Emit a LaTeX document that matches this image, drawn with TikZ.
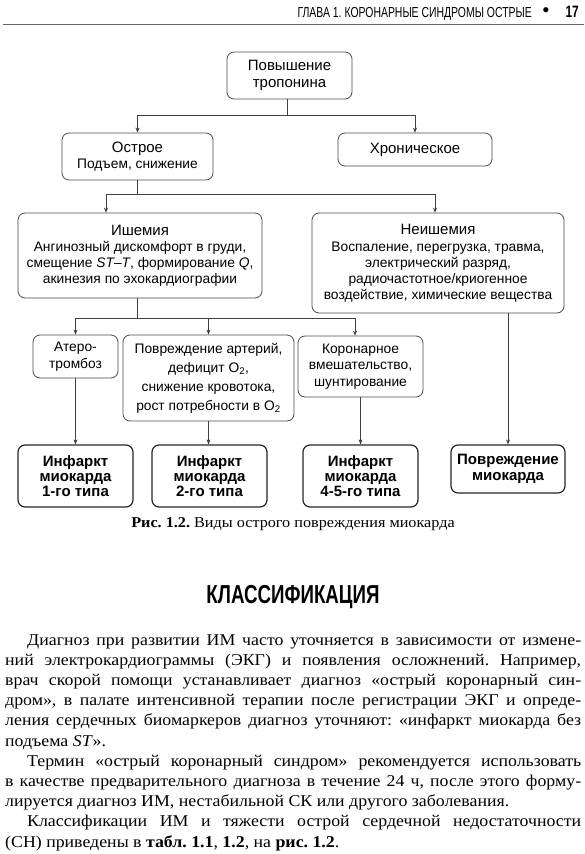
\documentclass[tikz,border=0pt]{standalone}
\usepackage{fontspec}
\setmainfont{Liberation Serif}
\newfontfamily\dsans{Liberation Sans}
\newfontfamily\cond[FakeStretch=0.72]{Liberation Sans}
\newfontfamily\bodyf[FakeStretch=1.08]{Liberation Serif}
\usetikzlibrary{arrows.meta}
\frenchspacing
\newcommand\jl[1]{\makebox[576pt][s]{#1}}
\newcommand\jli[1]{\makebox[554pt][s]{#1}}
\newcommand\ttl[1]{{\fontsize{15}{16.7}\selectfont #1}}
\begin{document}
\begin{tikzpicture}[x=1pt,y=-1pt,
  box/.style={draw=black!70, line width=0.8pt, rounded corners=7pt, inner sep=0pt, align=center,
    font=\dsans\fontsize{13.8}{16.7}\selectfont},
  bbox/.style={box, line width=1.2pt, draw=black!85, font=\dsans\bfseries\fontsize{15}{15.3}\selectfont},
  conn/.style={draw=black!75, line width=0.7pt},
  arr/.style={conn, -{Stealth[length=5pt,width=4pt]}},
  txt/.style={inner sep=0pt, anchor=base west, font=\bodyf\fontsize{16.5}{20}\selectfont},
]
\useasboundingbox[fill=white] (0,0) rectangle (584,854);
% header
\node[anchor=base east, inner sep=0pt, font=\cond\fontsize{14.5}{14.5}\selectfont] (hdr) at (532,17) {ГЛАВА 1. КОРОНАРНЫЕ СИНДРОМЫ ОСТРЫЕ};
\node[inner sep=0pt, font=\dsans\fontsize{19}{19}\selectfont] (bul) at (546,12) {•};
\node[anchor=base east, inner sep=0pt, font=\cond\bfseries\fontsize{16.5}{16.5}\selectfont] (pg) at (579,17.5) {17};
\draw[line width=1.8pt, black!60] (3,24.5) -- (584,24.5);

% boxes
\node[box, minimum width=125pt, minimum height=47pt] (top) at (289.5,75.5) {\ttl{Повышение}\\\ttl{тропонина}};
\node[box, minimum width=151pt, minimum height=47pt] (acute) at (137.5,156.5) {\ttl{Острое}\\Подъем, снижение};
\node[box, minimum width=154pt, minimum height=33pt] (chron) at (415,149.5) {\ttl{Хроническое}};
\node[box, minimum width=244pt, minimum height=85pt, font=\dsans\fontsize{13.8}{15.7}\selectfont] (isch) at (140,255.5)
  {\ttl{Ишемия}\\[1pt]Ангинозный дискомфорт в груди,\\смещение \textit{ST–T}, формирование \textit{Q},\\акинезия по эхокардиографии};
\node[box, minimum width=252pt, minimum height=100pt, font=\dsans\fontsize{13.8}{16}\selectfont] (nonisch) at (438,263)
  {\ttl{Неишемия}\\[1pt]Воспаление, перегрузка, травма,\\электрический разряд,\\радиочастотное/криогенное\\воздействие, химические вещества};
\node[box, minimum width=85pt, minimum height=43pt] (athero) at (75.5,356.5) {Атеро-\\тромбоз};
\node[box, minimum width=171pt, minimum height=86pt, font=\dsans\fontsize{13.8}{19}\selectfont] (arter) at (208.5,378)
  {Повреждение артерий,\\дефицит O\textsubscript{2},\\снижение кровотока,\\рост потребности в O\textsubscript{2}};
\node[box, minimum width=125pt, minimum height=61pt] (coron) at (360.5,366.5) {Коронарное\\вмешательство,\\шунтирование};
\node[bbox, minimum width=115pt, minimum height=62pt] (inf1) at (75.5,476) {Инфаркт\\миокарда\\1-го типа};
\node[bbox, minimum width=115pt, minimum height=62pt] (inf2) at (209.5,476) {Инфаркт\\миокарда\\2-го типа};
\node[bbox, minimum width=115pt, minimum height=62pt] (inf45) at (360.5,476) {Инфаркт\\миокарда\\4-5-го типа};
\node[bbox, minimum width=114pt, minimum height=48pt] (myo) at (508,469) {Повреждение\\миокарда};

% connectors
\coordinate (j1) at (287,115);
\draw[conn] (top.south -| j1) -- (j1);
\draw[arr] (j1) -| (acute.north);
\draw[arr] (j1) -| (chron.north);
\coordinate (j2) at (137.5,194);
\coordinate (a1) at (106,194);
\coordinate (b1) at (435,194);
\draw[conn] (acute.south) -- (j2);
\draw[conn] (a1) -- (b1);
\draw[arr] (a1) -- (a1 |- isch.north);
\draw[arr] (b1) -- (b1 |- nonisch.north);
\coordinate (j3) at (137,318);
\coordinate (a2) at (75.5,318);
\coordinate (c2) at (355,318);
\draw[conn] (isch.south -| j3) -- (j3);
\draw[conn] (a2) -- (c2);
\draw[arr] (a2) -- (athero.north);
\draw[arr] (a2 -| arter.north) -- (arter.north);
\draw[arr] (c2) -- (c2 |- coron.north);
\draw[arr] (athero.south) -- (inf1.north);
\draw[arr] (arter.south) -- (arter.south |- inf2.north);
\draw[arr] (coron.south) -- (inf45.north);
\draw[arr] (myo.north |- nonisch.south) -- (myo.north);

% caption
\node[anchor=base, inner sep=0pt, font=\bodyf\fontsize{15}{15}\selectfont] (cap) at (293,527)
  {\textbf{Рис. 1.2.} Виды острого повреждения миокарда};
% heading
\node[anchor=base, inner sep=0pt, font=\cond\bfseries\fontsize{26}{26}\selectfont] (head) at (293,603) {КЛАССИФИКАЦИЯ};

% body text
\node[txt] (l1) at (27,645) {\jli{Диагноз при развитии ИМ часто уточняется в зависимости от измене-}};
\node[txt] (l2) at (5,665.2) {\jl{ний электрокардиограммы (ЭКГ) и появления осложнений. Например,}};
\node[txt] (l3) at (5,685.4) {\jl{врач скорой помощи устанавливает диагноз «острый коронарный син-}};
\node[txt] (l4) at (5,705.6) {\jl{дром», в палате интенсивной терапии после регистрации ЭКГ и опреде-}};
\node[txt] (l5) at (5,725.8) {\jl{ления сердечных биомаркеров диагноз уточняют: «инфаркт миокарда без}};
\node[txt] (l6) at (5,746) {подъема \textit{ST}».};
\node[txt] (l7) at (27,766.2) {\jli{Термин «острый коронарный синдром» рекомендуется использовать}};
\node[txt] (l8) at (5,786.4) {\jl{в качестве предварительного диагноза в течение 24 ч, после этого форму-}};
\node[txt] (l9) at (5,806.6) {лируется диагноз ИМ, нестабильной СК или другого заболевания.};
\node[txt] (l10) at (27,826.8) {\jli{Классификации ИМ и тяжести острой сердечной недостаточности}};
\node[txt] (l11) at (5,847) {(СН) приведены в \textbf{табл. 1.1}, \textbf{1.2}, на \textbf{рис. 1.2}.};
\end{tikzpicture}
\end{document}
